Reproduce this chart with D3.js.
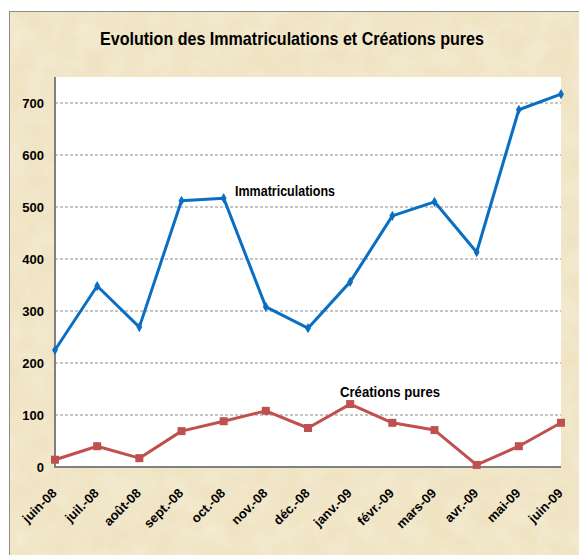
<!DOCTYPE html>
<html><head><meta charset="utf-8">
<script src="https://cdn.jsdelivr.net/npm/d3@7"></script>
<style>body{margin:0;background:#fff}svg{display:block}</style>
</head><body>
<script>
const months = ["juin-08","juil.-08","août-08","sept.-08","oct.-08","nov.-08","déc.-08","janv.-09","févr.-09","mars-09","avr.-09","mai-09","juin-09"];
const immatriculations = [225,348,269,512,517,308,267,356,483,510,413,687,717];
const creations = [14,40,17,69,88,108,75,121,85,71,4,40,85];
const yTicks = [0,100,200,300,400,500,600,700];
const title = "Evolution des Immatriculations et Créations pures";

const W=579,H=555;
const svg=d3.select("body").append("svg").attr("width",W).attr("height",H);
const defs=svg.append("defs");
const f=defs.append("filter").attr("id","tex").attr("x",0).attr("y",0).attr("width","100%").attr("height","100%");
f.append("feTurbulence").attr("type","fractalNoise").attr("baseFrequency","0.04").attr("numOctaves",4).attr("seed",3).attr("result","n");
f.append("feColorMatrix").attr("in","n").attr("type","matrix")
 .attr("values","0 0 0 0 0.95  0 0 0 0 0.90  0 0 0 0 0.76  0.7 0 0 0 -0.2").attr("result","c");
f.append("feComposite").attr("in","c").attr("in2","SourceGraphic").attr("operator","over");

svg.append("rect").attr("x",9).attr("y",11).attr("width",W).attr("height",H).attr("fill","#e4d1a4");
svg.append("rect").attr("x",9).attr("y",11).attr("width",W).attr("height",H).attr("fill","#efe3c2").attr("filter","url(#tex)");
svg.append("rect").attr("x",9.5).attr("y",11.5).attr("width",W).attr("height",H).attr("fill","none").attr("stroke","#8c8c8c").attr("stroke-width",1);

const L=55,R=561,T=77,B=467;
const x=d3.scalePoint().domain(months).range([L,R]);
const y=d3.scaleLinear().domain([0,750]).range([B,T]);

svg.append("rect").attr("x",L).attr("y",T).attr("width",R-L).attr("height",B-T).attr("fill","#fff");

const font="'Liberation Sans Narrow','Liberation Sans',sans-serif";
svg.append("text").attr("x",292).attr("y",45).attr("text-anchor","middle")
 .attr("font-family",font).attr("font-weight","bold").attr("font-size",19)
 .attr("textLength",384).attr("lengthAdjust","spacingAndGlyphs").text(title);

// grid
svg.append("g").selectAll("line").data(yTicks.filter(d=>d>0)).join("line")
 .attr("x1",L).attr("x2",R).attr("y1",d=>y(d)).attr("y2",d=>y(d))
 .attr("stroke","#8a8a8a").attr("stroke-width",1).attr("stroke-dasharray","3,2");

// axes
const ya=svg.append("g").attr("transform",`translate(${L},0)`)
 .call(d3.axisLeft(y).tickValues(yTicks).tickSize(0).tickPadding(11));
ya.select(".domain").remove();
ya.selectAll("text").attr("font-family",font).attr("font-weight","bold").attr("font-size",13).attr("fill","#000");

const xa=svg.append("g").attr("transform",`translate(0,${B})`)
 .call(d3.axisBottom(x).tickSize(0));
xa.select(".domain").remove();
xa.selectAll("text").attr("font-family",font).attr("font-weight","bold").attr("font-size",13).attr("fill","#000")
 .attr("text-anchor","end").attr("dy",0).attr("y",0)
 .attr("transform","translate(2,27) rotate(-45)");

svg.append("line").attr("x1",L).attr("x2",L).attr("y1",T).attr("y2",B+1).attr("stroke","#808080").attr("stroke-width",2);
svg.append("line").attr("x1",L-1).attr("x2",R).attr("y1",B).attr("y2",B).attr("stroke","#808080").attr("stroke-width",2);

const line=d3.line().x((d,i)=>x(months[i])).y(d=>y(d));
svg.append("path").datum(immatriculations).attr("d",line).attr("fill","none").attr("stroke","#0a6fc2").attr("stroke-width",3).attr("stroke-linejoin","round");
svg.append("g").selectAll("path").data(immatriculations).join("path")
 .attr("d",d3.symbol(d3.symbolDiamond,30)).attr("fill","#0a6fc2")
 .attr("transform",(d,i)=>`translate(${x(months[i])},${y(d)})`);

svg.append("path").datum(creations).attr("d",line).attr("fill","none").attr("stroke","#c0504d").attr("stroke-width",3).attr("stroke-linejoin","round");
svg.append("g").selectAll("rect").data(creations).join("rect")
 .attr("x",(d,i)=>x(months[i])-4).attr("y",d=>y(d)-4).attr("width",8).attr("height",8).attr("fill","#c0504d");

svg.append("text").attr("x",235).attr("y",196).attr("font-family",font).attr("font-weight","bold").attr("font-size",15)
 .attr("textLength",100).attr("lengthAdjust","spacingAndGlyphs").text("Immatriculations");
svg.append("text").attr("x",340).attr("y",397).attr("font-family",font).attr("font-weight","bold").attr("font-size",15)
 .attr("textLength",100).attr("lengthAdjust","spacingAndGlyphs").text("Créations pures");
</script>
</body></html>
